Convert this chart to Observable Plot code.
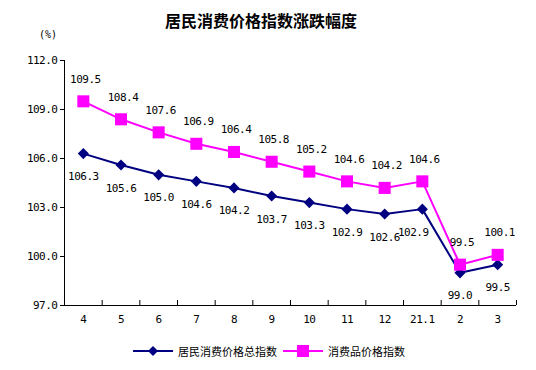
<!DOCTYPE html>
<html><head><meta charset="utf-8">
<script src="https://cdn.jsdelivr.net/npm/d3@7"></script>
<script src="https://cdn.jsdelivr.net/npm/@observablehq/plot@0.6"></script>
<style>
body{margin:0;background:#fff;}
#wrap{position:relative;width:536px;height:370px;overflow:hidden;}
#title{position:absolute;left:261px;top:8px;transform:translateX(-50%);white-space:nowrap;font:bold 16px "Noto Sans CJK SC";color:#000;}
#unit{position:absolute;left:39px;top:29px;font:10px "DejaVu Sans Mono";color:#000;}
#legend{position:absolute;left:133px;top:343px;display:flex;align-items:center;font:11px "Noto Sans CJK SC";color:#000;white-space:nowrap;}
#legend span{display:flex;align-items:center;}
#chart{position:absolute;left:0;top:0;}
#chart svg text{letter-spacing:-0.5px;}
</style>
</head><body>
<div id="wrap">
<div id="chart"></div>
<div id="title">居民消费价格指数涨跌幅度</div>
<div id="unit">(%)</div>
<div id="legend"></div>
</div>
<script>
const months = ["4","5","6","7","8","9","10","11","12","21.1","2","3"];
const cpiTotal = [106.3,105.6,105.0,104.6,104.2,103.7,103.3,102.9,102.6,102.9,99.0,99.5];
const consumerGoods = [109.5,108.4,107.6,106.9,106.4,105.8,105.2,104.6,104.2,104.6,99.5,100.1];
const yTicks = [97,100,103,106,109,112];
const seriesNames = ["居民消费价格总指数","消费品价格指数"];

const navy = "#000080", pink = "#FF00FF";
const mono = "DejaVu Sans Mono";
const rowsA = months.map((m,i)=>({i, m, v: cpiTotal[i]}));
const rowsB = months.map((m,i)=>({i, m, v: consumerGoods[i]}));
const cx = d => d.i + 0.5;
// label placement: the navy label at the sharp drop is nudged left, as in the original
const labelXA = d => d.i + 0.5 - (d.i === 9 ? 0.24 : 0);

const chart = Plot.plot({
  width: 536, height: 370,
  marginTop: 60, marginBottom: 65, marginLeft: 64, marginRight: 20,
  style: {fontFamily: mono, fontSize: "11px", background: "#fff", color: "#000"},
  x: {type: "linear", domain: [0, months.length]},
  y: {domain: [97, 112]},
  marks: [
    Plot.axisY({ticks: yTicks, tickFormat: d => d.toFixed(1), tickSize: 4, tickPadding: 3, label: null, fontFamily: mono, fontSize: 11}),
    Plot.axisX({ticks: d3.range(1, months.length + 1), tickFormat: () => "", tickSize: -5, label: null}),
    Plot.axisX({ticks: d3.range(months.length).map(i => i + 0.5), tickFormat: t => months[Math.floor(t)], tickSize: 0, tickPadding: 10, label: null, fontFamily: mono, fontSize: 11}),
    Plot.ruleX([0], {stroke: "#000"}),
    Plot.ruleY([97], {stroke: "#000"}),
    Plot.line(rowsA, {x: cx, y: "v", stroke: navy, strokeWidth: 2}),
    Plot.line(rowsB, {x: cx, y: "v", stroke: pink, strokeWidth: 2}),
    Plot.dot(rowsA, {x: cx, y: "v", symbol: "diamond2", r: 5, fill: navy, stroke: "none"}),
    Plot.dot(rowsB, {x: cx, y: "v", symbol: "square", r: 6.8, fill: pink, stroke: "none"}),
    Plot.text(rowsA, {x: labelXA, y: "v", text: d => d.v.toFixed(1), dy: 23, fill: "#000", fontFamily: mono, fontSize: 11}),
    Plot.text(rowsB, {x: cx, y: "v", text: d => d.v.toFixed(1), dy: -22, dx: 2, fill: "#000", fontFamily: mono, fontSize: 11})
  ]
});
document.getElementById("chart").appendChild(chart);

// legend
const legend = document.getElementById("legend");
const sym = [
  `<svg width="42" height="10"><line x1="0" y1="5" x2="40" y2="5" stroke="${navy}" stroke-width="2"/><path d="M20,0 L25,5 L20,10 L15,5Z" fill="${navy}"/></svg>`,
  `<svg width="42" height="12"><line x1="0" y1="6" x2="40" y2="6" stroke="${pink}" stroke-width="2"/><rect x="14" y="0" width="12" height="12" fill="${pink}"/></svg>`
];
seriesNames.forEach((n, k) => {
  const s = document.createElement("span");
  s.style.marginRight = k === 0 ? "6px" : "0";
  s.innerHTML = sym[k] + `<span style="margin-left:3px">${n}</span>`;
  legend.appendChild(s);
});
</script>
</body></html>
